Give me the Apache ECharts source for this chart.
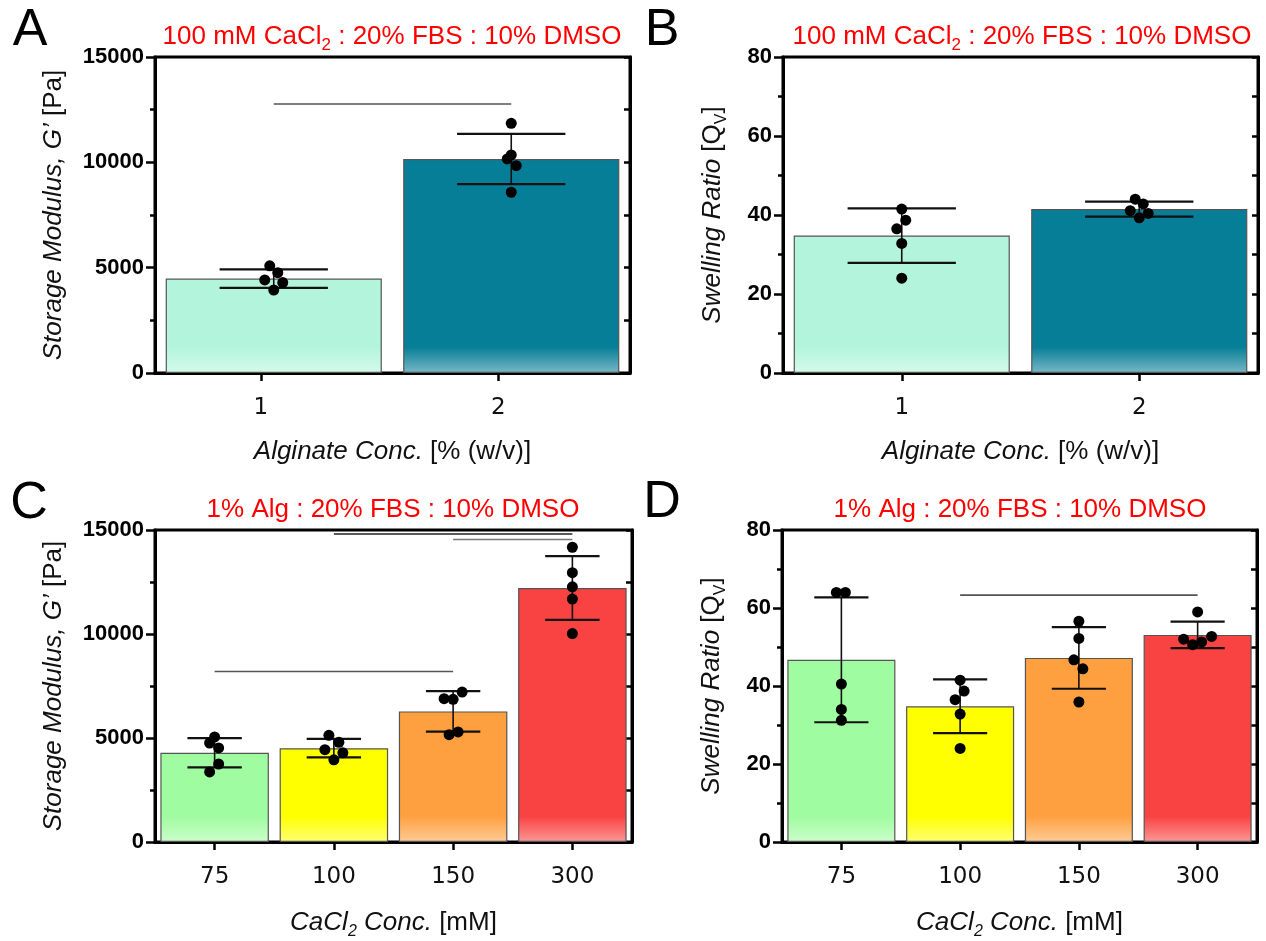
<!DOCTYPE html>
<html>
<head>
<meta charset="utf-8">
<script src="https://cdn.jsdelivr.net/npm/echarts@6/dist/echarts.min.js"></script>
<style>
  html, body { margin: 0; padding: 0; background: #fff; }
  #chart { width: 1266px; height: 941px; }
</style>
</head>
<body>
<div id="chart"></div>
<script>
// ---- data ----
// A/B: alginate concentration (100 mM CaCl2)
const algCats = ['1', '2'];
const algColors = ['#b3f5dc', '#077e97'];
const modA_mean = [4480, 10160];
const modA_sd = [440, 1190];
const modA_pts = [[5090, 4760, 4420, 4290, 3940], [11850, 10350, 10160, 9840, 8580]];
const modA_jit = [[-4, 4, -9, 9, 0], [0, 0, -4, 5, 0]];
const modA_sig = [[0, 1, 12770]];

const swA_mean = [34.8, 41.5];
const swA_sd = [6.9, 1.9];
const swA_pts = [[41.5, 38.7, 36.5, 32.8, 24.0], [44.0, 42.8, 41.1, 40.4, 39.3]];
const swA_jit = [[0, 4, -5, 0, 0], [-4, 4, -9, 9, 0]];

// C/D: CaCl2 concentration (1% alginate)
const caCats = ['75', '100', '150', '300'];
const caColors = ['#a0fca0', '#ffff00', '#ffa040', '#f94242'];
const modC_mean = [4290, 4510, 6280, 12210];
const modC_sd = [700, 445, 970, 1530];
const modC_pts = [
  [5050, 4760, 4520, 3750, 3370],
  [5130, 4790, 4440, 4290, 3950],
  [7210, 6860, 6890, 5290, 5160],
  [14170, 12950, 12270, 11680, 10020]
];
const modC_jit = [[0, -5, 4, 4, -5], [-5, 5, -9, 9, 0], [9, 0, -9, 5, -4], [0, 0, 0, 0, 0]];
const modC_sig = [[1, 3, 14810], [2, 3, 14540], [0, 2, 8200]];

const swC_mean = [46.7, 34.8, 47.2, 53.1];
const swC_sd = [16.0, 6.9, 7.9, 3.4];
const swC_pts = [
  [64.0, 64.0, 40.5, 34.0, 31.2],
  [41.5, 38.7, 36.5, 32.8, 24.0],
  [56.6, 52.2, 46.7, 44.4, 35.9],
  [59.0, 52.7, 52.0, 51.3, 50.6]
];
const swC_jit = [[-5, 4, 0, 0, 0], [0, 4, -5, 0, 0], [0, 0, -5, 4, 0], [0, 14, -14, 4, -5]];
const swC_sig = [[1, 3, 63.3]];

// ---- styling ----
const FONT = '"Liberation Sans", Arial, Helvetica, sans-serif';
const CATFONT = '"DejaVu Sans", Verdana, sans-serif';

function lighten(hex, t) {
  const n = parseInt(hex.slice(1), 16);
  const r = (n >> 16) & 255, g = (n >> 8) & 255, b = n & 255;
  const f = c => Math.round(c + (255 - c) * t);
  return 'rgb(' + f(r) + ',' + f(g) + ',' + f(b) + ')';
}

const nameRich = {
  i: { fontFamily: FONT, fontSize: 26, fontStyle: 'italic', color: '#111', lineHeight: 34 },
  n: { fontFamily: FONT, fontSize: 26, color: '#111', lineHeight: 34 },
  s: { fontFamily: FONT, fontSize: 16, color: '#111', lineHeight: 15, verticalAlign: 'bottom' },
  si: { fontFamily: FONT, fontSize: 16, fontStyle: 'italic', color: '#111', lineHeight: 15, verticalAlign: 'bottom' }
};

const panels = [
  { left: 155, top: 57, width: 475, height: 316, cats: algCats, colors: algColors,
    mean: modA_mean, sd: modA_sd, pts: modA_pts, jit: modA_jit, sig: modA_sig, sigColors: ['#555'],
    ymax: 15000, major: 5000, minor: 2500, shiftTicks: 13,
    yname: '{i|Storage Modulus, G\u2019}{n| [Pa]}', yGap: 84,
    xname: '{i|Alginate Conc.}{n| [% (w/v)]}', xGap: 62 },
  { left: 783, top: 57, width: 475, height: 316, cats: algCats, colors: algColors,
    mean: swA_mean, sd: swA_sd, pts: swA_pts, jit: swA_jit, sig: [], sigColors: [],
    ymax: 80, major: 20, minor: 10, shiftTicks: 0,
    yname: '{i|Swelling Ratio}{n| [Q}{s|V}{n|]}', yGap: 53,
    xname: '{i|Alginate Conc.}{n| [% (w/v)]}', xGap: 62 },
  { left: 155, top: 530, width: 477, height: 316, cats: caCats, colors: caColors,
    mean: modC_mean, sd: modC_sd, pts: modC_pts, jit: modC_jit, sig: modC_sig, sigColors: ['#222', '#777', '#555'],
    ymax: 15000, major: 5000, minor: 2500, shiftTicks: 0,
    yname: '{i|Storage Modulus, G\u2019}{n| [Pa]}', yGap: 84,
    xname: '{i|CaCl}{si|2}{i| Conc.}{n| [mM]}', xGap: 64 },
  { left: 782, top: 530, width: 475, height: 316, cats: caCats, colors: caColors,
    mean: swC_mean, sd: swC_sd, pts: swC_pts, jit: swC_jit, sig: swC_sig, sigColors: ['#555'],
    ymax: 80, major: 20, minor: 10, shiftTicks: 0,
    yname: '{i|Swelling Ratio}{n| [Q}{s|V}{n|]}', yGap: 53,
    xname: '{i|CaCl}{si|2}{i| Conc.}{n| [mM]}', xGap: 64 }
];

const option = { animation: false, backgroundColor: '#fff', grid: [], xAxis: [], yAxis: [], series: [], graphic: [] };

panels.forEach((p, gi) => {
  const xi = option.xAxis.length, yi = option.yAxis.length;
  const n = p.cats.length;
  const band = p.width / n;
  option.grid.push({ left: p.left, top: p.top, width: p.width, height: p.height,
    show: true, borderColor: '#000', borderWidth: 3, backgroundColor: 'transparent' });

  option.xAxis.push({
    gridIndex: gi, type: 'category', data: p.cats, position: 'bottom',
    axisLine: { show: true, lineStyle: { color: '#000', width: 3 } },
    axisTick: { show: !p.shiftTicks, alignWithLabel: true, length: 8, lineStyle: { color: '#000', width: 2.5 } },
    axisLabel: { show: !p.shiftTicks, margin: 24, fontFamily: CATFONT, fontSize: 23, color: '#111' },
    splitLine: { show: false },
    name: p.xname, nameLocation: 'middle', nameGap: p.xGap, nameTextStyle: { rich: nameRich }
  });
  if (p.shiftTicks) {
    // the tick marks in panel A sit a little left of the bar centres
    const s = p.shiftTicks / band;
    option.xAxis.push({
      gridIndex: gi, type: 'value', position: 'bottom', min: 0.5 + s, max: n + 0.5 + s,
      axisLine: { show: false }, splitLine: { show: false },
      axisTick: { show: true, customValues: p.cats.map((c, i) => i + 1), length: 8, lineStyle: { color: '#000', width: 2.5 } },
      axisLabel: { show: true, customValues: p.cats.map((c, i) => i + 1), margin: 24,
        fontFamily: CATFONT, fontSize: 23, color: '#111', formatter: v => p.cats[Math.round(v) - 1] }
    });
  }
  option.yAxis.push({
    gridIndex: gi, type: 'value', min: 0, max: p.ymax, interval: p.major, position: 'left',
    axisLine: { show: true, lineStyle: { color: '#000', width: 3 } },
    axisTick: { show: true, length: 9, lineStyle: { color: '#000', width: 2.5 } },
    minorTick: { show: true, splitNumber: 2, length: 5, lineStyle: { color: '#000', width: 2.5 } },
    axisLabel: { margin: 11, fontFamily: FONT, fontWeight: 'bold', fontSize: 22, color: '#000', formatter: v => String(v) },
    splitLine: { show: false },
    name: p.yname, nameLocation: 'middle', nameRotate: 90, nameGap: p.yGap, nameTextStyle: { rich: nameRich }
  });
  option.yAxis.push({
    gridIndex: gi, type: 'value', min: 0, max: p.ymax, interval: p.minor, position: 'right',
    axisLine: { show: true, lineStyle: { color: '#000', width: 3 } },
    axisTick: { show: true, inside: true, length: 6, lineStyle: { color: '#000', width: 2.5 } },
    axisLabel: { show: false }, splitLine: { show: false }
  });

  // bars with a pale fade near the baseline
  option.series.push({
    type: 'bar', xAxisIndex: xi, yAxisIndex: yi, barWidth: '91%', z: 2,
    data: p.mean.map((m, i) => {
      const h = m / p.ymax * p.height;
      const f = Math.max(0, 1 - 26 / h);
      return { value: m, itemStyle: {
        color: new echarts.graphic.LinearGradient(0, 0, 0, 1, [
          { offset: 0, color: p.colors[i] }, { offset: f, color: p.colors[i] },
          { offset: 1, color: lighten(p.colors[i], 0.45) }]),
        borderColor: '#555', borderWidth: 1.2 } };
    })
  });

  // SD error bars
  option.series.push({
    type: 'custom', xAxisIndex: xi, yAxisIndex: yi, z: 3,
    data: p.mean.map((m, i) => [i, m, p.sd[i]]),
    encode: { x: 0, y: 1 },
    renderItem: (params, api) => {
      const i = api.value(0), m = api.value(1), s = api.value(2);
      const hi = api.coord([i, m + s]), lo = api.coord([i, m - s]);
      const half = api.size([1, 0])[0] * 0.228;
      return { type: 'group', children: [
        { type: 'line', shape: { x1: hi[0], y1: hi[1], x2: lo[0], y2: lo[1] }, style: { stroke: '#111', lineWidth: 1.6 } },
        { type: 'line', shape: { x1: hi[0] - half, y1: hi[1], x2: hi[0] + half, y2: hi[1] }, style: { stroke: '#111', lineWidth: 2.2 } },
        { type: 'line', shape: { x1: lo[0] - half, y1: lo[1], x2: lo[0] + half, y2: lo[1] }, style: { stroke: '#111', lineWidth: 2.2 } }
      ] };
    }
  });

  // individual samples
  const dots = [];
  p.pts.forEach((arr, i) => arr.forEach((v, k) => dots.push({ value: [i, v], symbolOffset: [p.jit[i][k], 0] })));
  option.series.push({
    type: 'scatter', xAxisIndex: xi, yAxisIndex: yi, z: 4, symbol: 'circle', symbolSize: 11,
    itemStyle: { color: '#000', opacity: 1 }, data: dots
  });

  // comparison lines
  if (p.sig.length) {
    option.series.push({
      type: 'custom', xAxisIndex: xi, yAxisIndex: yi, z: 3,
      data: p.sig, encode: { x: [0, 1], y: 2 },
      renderItem: (params, api) => {
        const a = api.coord([api.value(0), api.value(2)]), b = api.coord([api.value(1), api.value(2)]);
        return { type: 'line', shape: { x1: a[0], y1: a[1], x2: b[0], y2: b[1] },
          style: { stroke: p.sigColors[params.dataIndex], lineWidth: 1.6 } };
      }
    });
  }
});

// panel letters and red condition headers
const letters = [['A', 30, 31], ['B', 662, 31], ['C', 29, 504], ['D', 662, 503]];
letters.forEach(l => option.graphic.push({ type: 'text', x: l[1], y: l[2],
  style: { text: l[0], fill: '#000', font: '52px ' + FONT, align: 'center', verticalAlign: 'middle' } }));

const headRich = {
  n: { fontFamily: FONT, fontSize: 26, fill: '#ff0000', color: '#ff0000', lineHeight: 34 },
  s: { fontFamily: FONT, fontSize: 17, fill: '#ff0000', color: '#ff0000', lineHeight: 16, verticalAlign: 'bottom' }
};
const heads = [
  ['{n|100 mM CaCl}{s|2}{n| : 20% FBS : 10% DMSO}', 392, 37],
  ['{n|100 mM CaCl}{s|2}{n| : 20% FBS : 10% DMSO}', 1022, 37],
  ['{n|1% Alg : 20% FBS : 10% DMSO}', 393, 510],
  ['{n|1% Alg : 20% FBS : 10% DMSO}', 1020, 510]
];
heads.forEach(h => option.graphic.push({ type: 'text', x: h[1], y: h[2],
  style: { text: h[0], rich: headRich, align: 'center', verticalAlign: 'middle' } }));

const chart = echarts.init(document.getElementById('chart'));
chart.setOption(option);
</script>
</body>
</html>
